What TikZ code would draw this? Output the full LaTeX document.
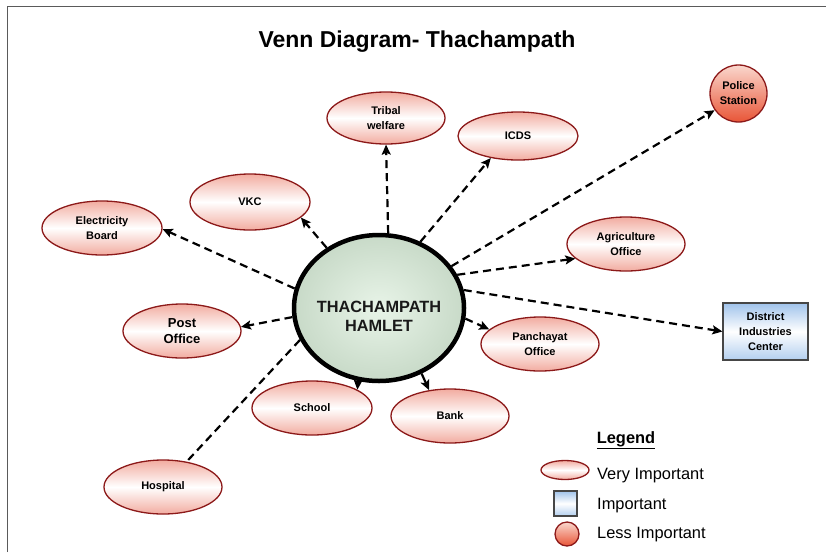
\documentclass[tikz,border=0pt]{standalone}
\usepackage{fontspec}
\setmainfont{Liberation Sans}
\usetikzlibrary{shapes.geometric,arrows.meta}
\definecolor{rim}{RGB}{140,25,25}
\definecolor{pinkedge}{RGB}{242,172,160}
\definecolor{hubin}{RGB}{232,244,232}
\definecolor{hubout}{RGB}{200,218,200}
\definecolor{blueedge}{RGB}{160,195,235}
\definecolor{redtop}{RGB}{250,215,205}
\definecolor{redbot}{RGB}{232,85,55}
\definecolor{framegray}{RGB}{90,90,90}
\definecolor{boxrim}{RGB}{70,70,70}
\tikzset{
  lbl/.style={font=\bfseries\fontsize{11}{15}\selectfont, align=center},
  vi/.style={ellipse, draw=rim, line width=1.3pt, top color=pinkedge, bottom color=pinkedge, middle color=white,
             inner sep=0pt, lbl},
  vis/.style 2 args={vi, minimum width=#1pt, minimum height=#2pt},
  imp/.style={rectangle, draw=boxrim, line width=1.2pt, top color=blueedge, bottom color=blueedge!80, middle color=white, inner sep=0pt, lbl},
  li/.style={circle, draw=rim, line width=1.3pt, top color=redtop, bottom color=redbot, inner sep=0pt, lbl},
  hub/.style={ellipse, draw=black, line width=4.5pt, inner color=hubin, outer color=hubout, minimum width=170pt, minimum height=146pt, inner sep=0pt},
  hubtext/.style={font=\bfseries\fontsize{16.3}{19}\selectfont, align=center, text=black!90},
  dasharrow/.style={draw=black, line width=2.2pt, dash pattern=on 8pt off 5pt, -{Stealth[length=10pt,width=9pt,inset=2pt]}},
  dashline/.style={draw=black, line width=2.2pt, dash pattern=on 8pt off 5pt},
  solidarrow/.style={draw=black, line width=2.2pt, -{Stealth[length=10pt,width=9pt,inset=2pt]}},
  legtext/.style={font=\fontsize{16.4}{19}\selectfont, anchor=base west, inner sep=0pt}
}
\begin{document}
\begin{tikzpicture}[x=1pt,y=-1pt]
\useasboundingbox (0,0) rectangle (826,552);
\draw[framegray, line width=1.5pt] (7.5,552) -- (7.5,6.5) -- (826,6.5);

\node[font=\bfseries\fontsize{23}{27}\selectfont] (title) at (417,42) {Venn Diagram- Thachampath};

\node[hub] (c) at (379,308) {};
\node[hubtext] (ct) at (379,316) {THACHAMPATH\\HAMLET};

\node[vis={118}{52}] (tw) at (386,118) {Tribal\\welfare};
\node[vis={120}{48}] (icds) at (518,136) {ICDS};
\node[vis={120}{56}] (vkc) at (250,202) {VKC};
\node[vis={120}{54}] (eb) at (102,228) {Electricity\\Board};
\node[vis={118}{54}] (ag) at (626,244) {Agriculture\\Office};
\node[vis={118}{54}, font=\bfseries\fontsize{13}{16}\selectfont] (po) at (182,331) {Post\\Office};
\node[vis={118}{54}] (pa) at (540,344) {Panchayat\\Office};
\node[vis={120}{54}] (sch) at (312,408) {School};
\node[vis={118}{54}] (bank) at (450,416) {Bank};
\node[vis={118}{54}] (hos) at (163,487) {Hospital};
\node[li, minimum size=57pt] (ps) at (738.5,93.5) {Police\\Station};
\node[imp, minimum width=85pt, minimum height=57pt] (dic) at (765.5,331.5) {District\\Industries\\Center};

\draw[dasharrow] (c.83) -- (tw.270);
\draw[dasharrow] (c.58) -- (icds.219);
\draw[dasharrow] (c.30) -- (ps.215);
\draw[dasharrow] (c.23) -- (ag.196);
\draw[dasharrow] (c.12) -- (dic.west);
\draw[dasharrow] (c.-7) -- (pa.164);
\draw[solidarrow] (c.-57) -- (bank.129);
\draw[solidarrow] (c.-106) -- (sch.22);
\draw[dasharrow] (c.186) -- (po.4);
\draw[dasharrow] (c.167) -- (eb.-1);
\draw[dasharrow] (c.131) -- (vkc.-17);
\draw[dashline] (c.202) -- (hos.47);

\node[font=\bfseries\fontsize{16.4}{19}\selectfont, anchor=base, inner sep=0pt] (leg) at (626,443) {\underline{Legend}};
\node[vi, minimum width=48pt, minimum height=19pt] (lvi) at (565,470) {};
\node[imp, minimum width=23pt, minimum height=25pt] (limp) at (565.5,503.5) {};
\node[li, minimum size=24pt] (lli) at (567,534) {};
\node[legtext] (tvi) at (597,479) {Very Important};
\node[legtext] (timp) at (597,509) {Important};
\node[legtext] (tli) at (597,538) {Less Important};
\end{tikzpicture}
\end{document}
